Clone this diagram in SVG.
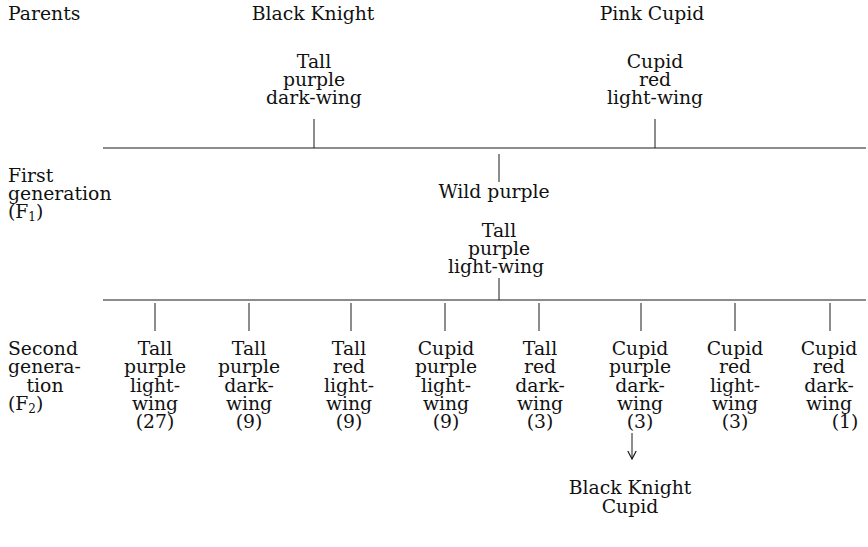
<svg xmlns="http://www.w3.org/2000/svg" width="868" height="547" viewBox="0 0 868 547">
<style>
text{font-family:"DejaVu Serif","Liberation Serif",serif;font-size:18.8px;fill:#111}
.c{text-anchor:middle}
.sub{font-size:12px}
.ln{stroke:#1a1a1a;stroke-width:1.2;fill:none}
.drop{stroke:#1a1a1a;stroke-width:1;fill:none}
</style>
<defs>
<marker id="ah" viewBox="0 0 10 10" refX="9.5" refY="5" markerWidth="10" markerHeight="10" markerUnits="userSpaceOnUse" orient="auto">
<path d="M1.5,0.8 L9.5,5 L1.5,9.2" fill="none" stroke="#1a1a1a" stroke-width="1.2"/>
</marker>
</defs>
<rect width="868" height="547" fill="#fff"/>

<g id="labels">
<text x="8" y="20">Parents</text>
<text x="8" y="182">First<tspan x="8" dy="18">generation</tspan><tspan x="8" dy="18">(F</tspan><tspan class="sub" dy="3">1</tspan><tspan dy="-3">)</tspan></text>
<text x="8" y="355">Second<tspan x="8" dy="18.3">genera-</tspan><tspan x="45" dy="18.3" text-anchor="middle">tion</tspan><tspan x="8" dy="18.3" text-anchor="start">(F</tspan><tspan class="sub" dy="3">2</tspan><tspan dy="-3">)</tspan></text>
</g>

<g id="black-knight">
<text x="313" y="20" class="c">Black Knight</text>
<text x="314" y="68" class="c">Tall<tspan x="314" dy="18">purple</tspan><tspan x="314" dy="18">dark-wing</tspan></text>
</g>

<g id="pink-cupid">
<text x="652" y="20" class="c">Pink Cupid</text>
<text x="655" y="68" class="c">Cupid<tspan x="655" dy="18">red</tspan><tspan x="655" dy="18">light-wing</tspan></text>
</g>

<g id="f1">
<text x="494" y="198" class="c">Wild purple</text>
<text x="499" y="237" class="c">Tall<tspan x="499" dy="18">purple</tspan><tspan x="496" dy="18">light-wing</tspan></text>
</g>

<g id="f2-1">
<text x="155" y="355" class="c">Tall<tspan x="155" dy="18.3">purple</tspan><tspan x="155" dy="18.3">light-</tspan><tspan x="155" dy="18.3">wing</tspan><tspan x="155" dy="18.3">(27)</tspan></text>
</g>
<g id="f2-2">
<text x="249" y="355" class="c">Tall<tspan x="249" dy="18.3">purple</tspan><tspan x="249" dy="18.3">dark-</tspan><tspan x="249" dy="18.3">wing</tspan><tspan x="249" dy="18.3">(9)</tspan></text>
</g>
<g id="f2-3">
<text x="349" y="355" class="c">Tall<tspan x="349" dy="18.3">red</tspan><tspan x="349" dy="18.3">light-</tspan><tspan x="349" dy="18.3">wing</tspan><tspan x="349" dy="18.3">(9)</tspan></text>
</g>
<g id="f2-4">
<text x="446" y="355" class="c">Cupid<tspan x="446" dy="18.3">purple</tspan><tspan x="446" dy="18.3">light-</tspan><tspan x="446" dy="18.3">wing</tspan><tspan x="446" dy="18.3">(9)</tspan></text>
</g>
<g id="f2-5">
<text x="540" y="355" class="c">Tall<tspan x="540" dy="18.3">red</tspan><tspan x="540" dy="18.3">dark-</tspan><tspan x="540" dy="18.3">wing</tspan><tspan x="540" dy="18.3">(3)</tspan></text>
</g>
<g id="f2-6">
<text x="640" y="355" class="c">Cupid<tspan x="640" dy="18.3">purple</tspan><tspan x="640" dy="18.3">dark-</tspan><tspan x="640" dy="18.3">wing</tspan><tspan x="640" dy="18.3">(3)</tspan></text>
</g>
<g id="f2-7">
<text x="735" y="355" class="c">Cupid<tspan x="735" dy="18.3">red</tspan><tspan x="735" dy="18.3">light-</tspan><tspan x="735" dy="18.3">wing</tspan><tspan x="735" dy="18.3">(3)</tspan></text>
</g>
<g id="f2-8">
<text x="829" y="355" class="c">Cupid<tspan x="829" dy="18.3">red</tspan><tspan x="829" dy="18.3">dark-</tspan><tspan x="829" dy="18.3">wing</tspan><tspan x="845" dy="18.3">(1)</tspan></text>
</g>

<g id="black-knight-cupid">
<text x="630" y="494" class="c">Black Knight<tspan x="630" dy="19">Cupid</tspan></text>
</g>

<g id="connectors">
<line class="drop" x1="314" y1="119" x2="314" y2="148"/>
<line class="drop" x1="655" y1="119" x2="655" y2="148"/>
<line class="ln" x1="103" y1="148" x2="866" y2="148"/>
<line class="drop" x1="499" y1="154" x2="499" y2="182"/>
<line class="drop" x1="499" y1="278" x2="499" y2="300"/>
<line class="ln" x1="103" y1="300" x2="866" y2="300"/>
<line class="drop" x1="155" y1="303" x2="155" y2="331"/>
<line class="drop" x1="249" y1="303" x2="249" y2="331"/>
<line class="drop" x1="351" y1="303" x2="351" y2="331"/>
<line class="drop" x1="445" y1="303" x2="445" y2="331"/>
<line class="drop" x1="539" y1="303" x2="539" y2="331"/>
<line class="drop" x1="641" y1="303" x2="641" y2="331"/>
<line class="drop" x1="735" y1="303" x2="735" y2="331"/>
<line class="drop" x1="830" y1="303" x2="830" y2="331"/>
<line class="drop" x1="632" y1="433" x2="632" y2="459" marker-end="url(#ah)"/>
</g>
</svg>
